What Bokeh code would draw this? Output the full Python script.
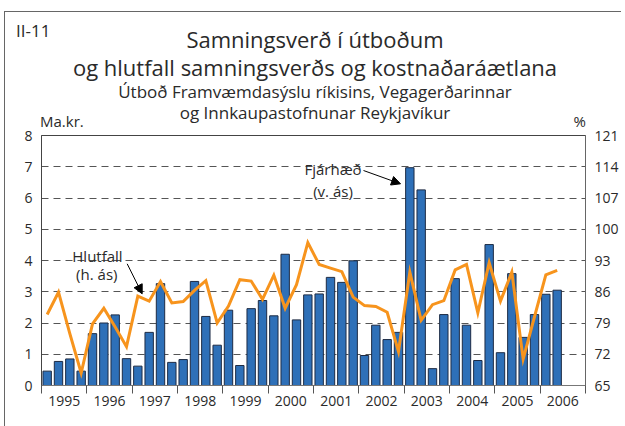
from bokeh.plotting import figure
from bokeh.layouts import column
from bokeh.models import (Label, Arrow, NormalHead, FixedTicker, LinearAxis,
                          Range1d, ColumnDataSource, Div)
from bokeh.embed import file_html
from bokeh.resources import INLINE

years = [str(y) for y in range(1995, 2007)]
# quarterly values, 1995 Q1 .. 2006 Q2
amount = [0.46, 0.77, 0.85, 0.46,
          1.66, 2.00, 2.26, 0.86,
          0.62, 1.70, 3.26, 0.74,
          0.83, 3.33, 2.21, 1.29,
          2.41, 0.64, 2.46, 2.72,
          2.23, 4.20, 2.10, 2.90,
          2.93, 3.46, 3.30, 3.99,
          0.96, 1.93, 1.47, 1.70,
          6.97, 6.26, 0.54, 2.27,
          3.42, 1.93, 0.80, 4.51,
          1.05, 3.58, 1.54, 2.27,
          2.92, 3.05]
ratio = [80.9, 85.9, 76.6, 67.8,
         78.8, 82.3, 78.1, 73.7,
         85.0, 83.9, 88.3, 83.5,
         83.8, 86.3, 88.5, 79.0,
         82.8, 88.7, 88.4, 84.3,
         89.7, 82.3, 87.6, 97.0,
         92.1, 91.3, 90.5, 84.8,
         82.9, 82.7, 81.4, 72.6,
         90.4, 79.6, 83.1, 84.0,
         90.9, 92.1, 81.3, 92.5,
         83.9, 90.4, 70.9, 80.4,
         89.8, 90.8]
left_ticks = [0, 1, 2, 3, 4, 5, 6, 7, 8]
right_ticks = [65, 72, 79, 86, 93, 100, 107, 114, 121]

chart_no = "II-11"
title1 = "Samningsverð í útboðum"
title2 = "og hlutfall samningsverðs og kostnaðaráætlana"
sub1 = "Útboð Framvæmdasýslu ríkisins, Vegagerðarinnar"
sub2 = "og Innkaupastofnunar Reykjavíkur"
left_unit = "Ma.kr."
right_unit = "%"

first_year = int(years[0])
xq = [first_year + (i + 0.5) / 4 for i in range(len(amount))]
src = ColumnDataSource(dict(x=xq, amount=amount, ratio=ratio))

FONT = "Open Sans"
TXT = "#2a2a2a"
W = 616
HEAD_H = 111


def span(text, size, top, left=None, right=None, center=False):
    st = f"position:absolute;top:{top}px;font-size:{size}px;line-height:1;white-space:nowrap;"
    if center:
        st += "left:0;width:620px;text-align:center;"
    elif left is not None:
        st += f"left:{left}px;"
    else:
        st += f"right:{W - right}px;"
    return f'<div style="{st}">{text}</div>'


html = (f'<div style="position:relative;width:{W}px;height:{HEAD_H}px;overflow:visible;'
        f'font-family:\'{FONT}\';color:{TXT};">'
        + span(chart_no, 17, 10, left=11)
        + span(title1, 22, 15.5, center=True)
        + span(title2, 22, 43.5, center=True)
        + span(sub1, 17, 71, center=True)
        + span(sub2, 17, 92, center=True)
        + span(left_unit, 15, 102, left=35)
        + span(right_unit, 15, 102, right=581)
        + '</div>')
head_div = Div(text=html, width=W, height=HEAD_H, margin=0,
               styles={"overflow": "visible", "z-index": "2"})

p = figure(width=W, height=294, output_backend="svg", toolbar_location=None,
           x_range=Range1d(first_year, first_year + len(years)),
           y_range=Range1d(0, 8),
           min_border_left=36, min_border_right=36,
           min_border_top=12, min_border_bottom=32,
           background_fill_color="white", border_fill_color="white",
           border_fill_alpha=0)
p.extra_y_ranges = {"pct": Range1d(65, 121)}

p.outline_line_color = "#444"
p.outline_line_width = 1

p.xgrid.visible = False
p.ygrid.ticker = FixedTicker(ticks=left_ticks)
p.ygrid.grid_line_color = "#555"
p.ygrid.grid_line_dash = "7 5"
p.ygrid.grid_line_width = 1

# bottom axis: labels at year centres, tick marks at year boundaries
xa = p.xaxis[0]
xa.ticker = FixedTicker(ticks=[int(y) + 0.5 for y in years],
                        minor_ticks=list(range(first_year, first_year + len(years) + 1)))
xa.major_label_overrides = {int(y) + 0.5: y for y in years}
xa.major_tick_out = 0
xa.major_tick_in = 0
xa.minor_tick_out = 8
xa.minor_tick_in = 0
xa.minor_tick_line_color = "#555"
xa.axis_line_color = "#777"
xa.major_label_standoff = 2
xa.major_label_text_font = FONT
xa.major_label_text_font_size = "14px"
xa.major_label_text_color = TXT

ya = p.yaxis[0]
ya.ticker = FixedTicker(ticks=left_ticks)
ya.major_tick_out = 0
ya.major_tick_in = 0
ya.minor_tick_out = 0
ya.minor_tick_in = 0
ya.axis_line_color = "#444"
ya.major_label_standoff = 9
ya.major_label_text_font = FONT
ya.major_label_text_font_size = "14px"
ya.major_label_text_color = TXT

ra = LinearAxis(y_range_name="pct", ticker=FixedTicker(ticks=right_ticks))
ra.major_tick_out = 0
ra.major_tick_in = 0
ra.minor_tick_out = 0
ra.minor_tick_in = 0
ra.axis_line_color = "#666"
ra.major_label_standoff = 9
ra.major_label_text_font = FONT
ra.major_label_text_font_size = "14px"
ra.major_label_text_color = TXT
p.add_layout(ra, "right")

p.vbar(x="x", top="amount", width=0.185, bottom=0, source=src,
       fill_color="#2e70b8", line_color="#1d2b44", line_width=1)
p.line(x="x", y="ratio", source=src, y_range_name="pct",
       line_color="#f7941d", line_width=3, line_join="miter")


def lab(x, y, text, size, align="center"):
    p.add_layout(Label(x=x, y=y, text=text, text_font=FONT, text_font_size=size,
                       text_align=align, text_baseline="alphabetic", text_color=TXT))


lab(1996.235, 4.16, "Hlutfall", "15px")
lab(1996.22, 3.58, "(h. ás)", "15px")
lab(2001.43, 6.944, "Fjárhæð", "15px")
lab(2001.43, 6.24, "(v. ás)", "15px")

head = dict(size=9, fill_color="black", line_color="black")
p.add_layout(Arrow(end=NormalHead(**head), x_start=1996.89, y_start=3.894,
                   x_end=1997.221, y_end=2.934, line_color="black", line_width=1))
p.add_layout(Arrow(end=NormalHead(**head), x_start=2002.103, y_start=6.88,
                   x_end=2002.92, y_end=6.454, line_color="black", line_width=1))

layout = column(head_div, p, spacing=0,
                styles={"position": "relative", "left": "4px", "top": "11px",
                        "border-left": "1px solid #666", "border-top": "1px solid #666",
                        "padding-bottom": "12px"})

open("out.html", "w").write(file_html(layout, INLINE))
